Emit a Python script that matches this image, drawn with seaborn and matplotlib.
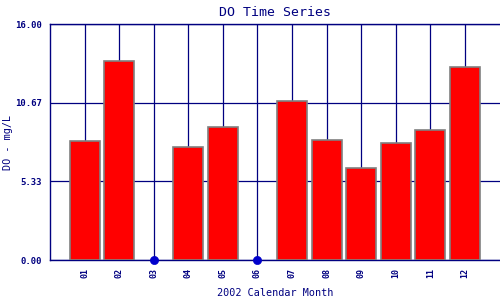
import numpy as np
import pandas as pd
import matplotlib
matplotlib.use("Agg")
import matplotlib.pyplot as plt
import seaborn as sns

months = ["01", "02", "03", "04", "05", "06", "07", "08", "09", "10", "11", "12"]
values = [8.07, 13.47, np.nan, 7.66, 9.02, np.nan, 10.78, 8.11, 6.21, 7.91, 8.79, 13.08]
yticks = [0.0, 5.33, 10.67, 16.0]
ytick_labels = ["0.00", "5.33", "10.67", "16.00"]

navy = "#000080"
sns.set_style("white")
plt.rcParams["font.family"] = ["DejaVu Sans Mono", "DejaVu Sans"]

df = pd.DataFrame({"month": months, "value": values})
missing = df[df["value"].isna()].copy()
missing["zero"] = 0.0

fig = plt.figure(figsize=(5, 3), dpi=100)
ax = fig.add_axes([0.1, 0.1333, 0.899, 0.7867])

sns.barplot(data=df, x="month", y="value", order=months, color="#FF0000",
            edgecolor="#808080", linewidth=1.2, width=0.87, saturation=1,
            ax=ax, zorder=3)
sns.scatterplot(data=missing, x="month", y="zero", color="#0000CC", s=35,
                edgecolor="#0000CC", ax=ax, zorder=5, clip_on=False, legend=False)

ax.set_xlim(-1, 12)
ax.set_ylim(0, 16)
ax.set_yticks(yticks)
ax.set_yticklabels(ytick_labels, fontsize=6.5, color=navy, fontweight="bold")
ax.set_xticks(range(len(months)))
ax.set_xticklabels(months, fontsize=6, color=navy, rotation=90, fontweight="bold")
ax.tick_params(length=0, pad=6)

ax.grid(True, color=navy, linewidth=0.9, zorder=0)
ax.set_axisbelow(True)
for s in ["left", "bottom", "top"]:
    ax.spines[s].set_color(navy)
    ax.spines[s].set_linewidth(1.0)
ax.spines["right"].set_visible(False)

ax.set_title("DO Time Series", color=navy, fontsize=9.5, pad=6)
ax.set_xlabel("2002 Calendar Month", color=navy, fontsize=7.3)
ax.set_ylabel("DO - mg/L", color=navy, fontsize=7.3)
ax.xaxis.set_label_coords(0.5, -0.14)
ax.yaxis.set_label_coords(-0.093, 0.5)
ax.xaxis.label.set_verticalalignment("center")
ax.yaxis.label.set_verticalalignment("center")

fig.savefig("out.png", dpi=100)
